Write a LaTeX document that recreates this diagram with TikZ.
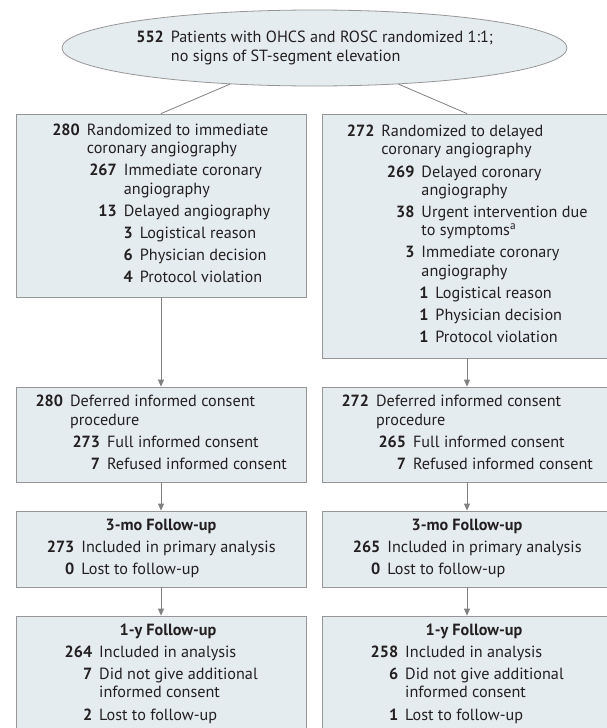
\documentclass[tikz,border=0pt]{standalone}
\usepackage{fontspec}
\setmainfont{PT Sans}
\usetikzlibrary{arrows.meta,shapes.geometric}
\definecolor{boxfill}{RGB}{229,236,240}
\definecolor{boxdraw}{RGB}{150,150,150}
\definecolor{linegray}{RGB}{128,128,128}
\definecolor{txt}{RGB}{35,31,32}
\newcommand{\tA}{28pt}
\newcommand{\tB}{65pt}
\newcommand{\tC}{81pt}
\newcommand{\tBr}{68pt}
\newcommand{\tCr}{82pt}
\newcommand{\ig}{4pt}
\newcommand{\nm}[2]{\makebox[#1][r]{\bfseries #2}\hspace{7pt}}
\newcommand{\ct}[1]{\hspace*{\dimexpr#1+7pt\relax}}
\newcommand{\hd}[1]{\multicolumn{1}{@{}c@{}}{\bfseries #1}}
\newcommand{\hdd}[1]{\multicolumn{1}{@{}c@{}}{\hspace{14pt}\bfseries #1}}
\begin{document}
\begin{tikzpicture}[x=1pt,y=-1pt,
  fs/.style={font=\fontsize{16.2}{18.2}\selectfont},
  box/.style={fs, draw=boxdraw, fill=boxfill, line width=0.8pt, rectangle, inner sep=0pt, minimum width=290pt, text=txt},
  ell/.style={fs, ellipse, draw=boxdraw, fill=boxfill, line width=0.8pt, inner sep=0pt, minimum width=489pt, minimum height=76pt, text=txt},
  conn/.style={draw=linegray, line width=0.8pt},
  arr/.style={conn, -{Triangle[width=6pt,length=7pt]}}]
\useasboundingbox (0,0) rectangle (607,728);
\clip (0,0) rectangle (607,728);

\node[ell] (top) at (314.5,48) {\begin{tabular}{@{}l@{}}
\nm{\tA}{552}Patients with OHCS and ROSC randomized 1:1;\\[1pt]
\ct{\tA}no signs of ST-segment elevation
\end{tabular}};

\node[box, minimum height=183pt] (b1L) at (161,205.5) {\begin{tabular}{@{}l@{}}
\nm{\tA}{280}Randomized to immediate\\
\ct{\tA}coronary angiography\\[\ig]
\nm{\tB}{267}Immediate coronary\\
\ct{\tB}angiography\\[\ig]
\nm{\tB}{13}Delayed angiography\\[\ig]
\nm{\tC}{3}Logistical reason\\[\ig]
\nm{\tC}{6}Physician decision\\[\ig]
\nm{\tC}{4}Protocol violation
\end{tabular}};

\node[box, minimum height=244pt] (b1R) at (467,236) {\begin{tabular}{@{}l@{}}
\nm{\tA}{272}Randomized to delayed\\
\ct{\tA}coronary angiography\\[\ig]
\nm{\tBr}{269}Delayed coronary\\
\ct{\tBr}angiography\\[\ig]
\nm{\tBr}{38}Urgent intervention due\\
\ct{\tBr}to symptoms\textsuperscript{a}\\[\ig]
\nm{\tBr}{3}Immediate coronary\\
\ct{\tBr}angiography\\[\ig]
\nm{\tCr}{1}Logistical reason\\[\ig]
\nm{\tCr}{1}Physician decision\\[\ig]
\nm{\tCr}{1}Protocol violation
\end{tabular}};

\node[box, minimum height=95pt] (b2L) at (161,434.5) {\begin{tabular}{@{}l@{}}
\nm{\tA}{280}Deferred informed consent\\
\ct{\tA}procedure\\[\ig]
\nm{\tB}{273}Full informed consent\\[\ig]
\nm{\tB}{7}Refused informed consent
\end{tabular}};

\node[box, minimum height=95pt] (b2R) at (467,434.5) {\begin{tabular}{@{}l@{}}
\nm{\tA}{272}Deferred informed consent\\
\ct{\tA}procedure\\[\ig]
\nm{\tB}{265}Full informed consent\\[\ig]
\nm{\tB}{7}Refused informed consent
\end{tabular}};

\node[box, minimum height=76pt] (b3L) at (161,549) {\begin{tabular}{@{}l@{}}
\hd{3-mo Follow-up}\\[\ig]
\nm{\tA}{273}Included in primary analysis\\[\ig]
\nm{\tA}{0}Lost to follow-up
\end{tabular}};

\node[box, minimum height=76pt] (b3R) at (467,549) {\begin{tabular}{@{}l@{}}
\hd{3-mo Follow-up}\\[\ig]
\nm{\tA}{265}Included in primary analysis\\[\ig]
\nm{\tA}{0}Lost to follow-up
\end{tabular}};

\node[box, minimum height=116pt] (b4L) at (161,674) {\begin{tabular}{@{}l@{}}
\hdd{1-y Follow-up}\\[\ig]
\nm{\tA}{264}Included in analysis\\[\ig]
\nm{\tA}{7}Did not give additional\\
\ct{\tA}informed consent\\[\ig]
\nm{\tA}{2}Lost to follow-up
\end{tabular}};

\node[box, minimum height=116pt] (b4R) at (467,674) {\begin{tabular}{@{}l@{}}
\hdd{1-y Follow-up}\\[\ig]
\nm{\tA}{258}Included in analysis\\[\ig]
\nm{\tA}{6}Did not give additional\\
\ct{\tA}informed consent\\[\ig]
\nm{\tA}{1}Lost to follow-up
\end{tabular}};

\draw[conn] (top) -- (b1L.north);
\draw[conn] (top) -- (b1R.north);
\draw[arr] (b1L) -- (b2L);
\draw[arr] (b1R) -- (b2R);
\draw[arr] (b2L) -- (b3L);
\draw[arr] (b2R) -- (b3R);
\draw[arr] (b3L) -- (b4L);
\draw[arr] (b3R) -- (b4R);
\end{tikzpicture}
\end{document}
